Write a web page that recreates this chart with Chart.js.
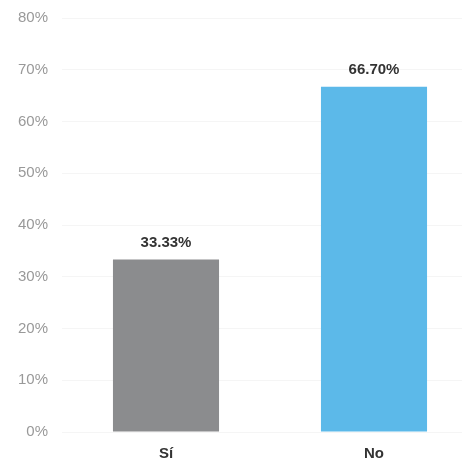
<!DOCTYPE html>
<html>
<head>
<meta charset="utf-8">
<script src="https://cdn.jsdelivr.net/npm/chart.js@4"></script>
<style>
  html, body { margin: 0; padding: 0; background: #fff; overflow: hidden; }
  #wrap { position: relative; width: 478px; height: 466px; }
</style>
</head>
<body>
<div id="wrap"><canvas id="chart"></canvas></div>
<script>
const categories = ['Sí', 'No'];
const values = [33.33, 66.70];
const valueLabels = ['33.33%', '66.70%'];
const barColors = ['#8b8c8e', '#5cb9e9'];

// Etiquetas de valor encima de cada barra
const valueLabelPlugin = {
  id: 'valueLabels',
  afterDatasetsDraw(chart) {
    const ctx = chart.ctx;
    const meta = chart.getDatasetMeta(0);
    ctx.save();
    ctx.font = 'bold 15px "Liberation Sans", Arial, sans-serif';
    ctx.fillStyle = '#333';
    ctx.textAlign = 'center';
    ctx.textBaseline = 'middle';
    meta.data.forEach((bar, i) => {
      ctx.fillText(valueLabels[i], bar.x, bar.y - 17);
    });
    ctx.restore();
  }
};

new Chart(document.getElementById('chart'), {
  type: 'bar',
  data: {
    labels: categories,
    datasets: [{
      data: values,
      backgroundColor: barColors,
      borderWidth: 0,
      categoryPercentage: 1,
      barPercentage: 0.51
    }]
  },
  options: {
    responsive: true,
    maintainAspectRatio: false,
    animation: false,
    layout: { padding: { top: 18, right: 0, bottom: 0, left: 0 } },
    plugins: {
      legend: { display: false },
      tooltip: { enabled: false }
    },
    scales: {
      x: {
        afterFit(axis) { axis.height = 34; },
        grid: { display: false },
        border: { display: false },
        ticks: {
          color: '#333',
          padding: 5,
          font: { family: '"Liberation Sans", Arial, sans-serif', size: 15, weight: 'bold' }
        }
      },
      y: {
        min: 0,
        max: 80,
        afterFit(axis) {
          axis.width = 62;
          axis.paddingTop = 0;
          axis.paddingBottom = 0;
        },
        grid: { color: '#f5f5f5', drawTicks: false },
        border: { display: false },
        ticks: {
          stepSize: 10,
          padding: 14,
          color: '#999',
          font: { family: '"Liberation Sans", Arial, sans-serif', size: 15 },
          callback: v => v + '%'
        }
      }
    }
  },
  plugins: [valueLabelPlugin]
});
</script>
</body>
</html>
